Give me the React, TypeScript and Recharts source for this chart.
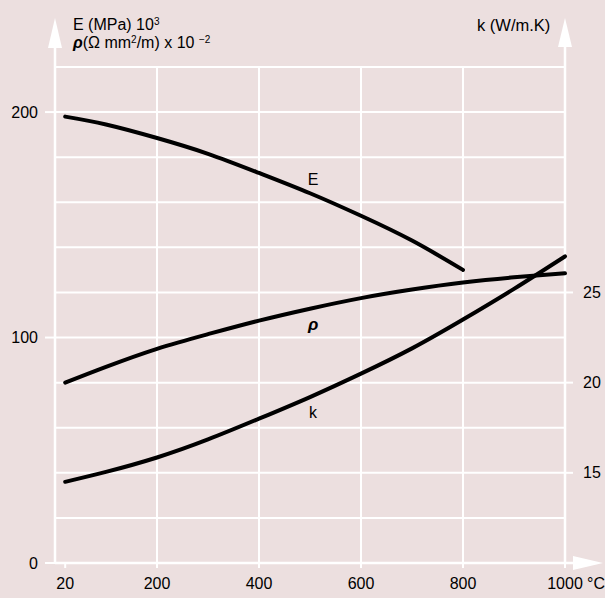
import React from 'react'
import { LineChart, Line, XAxis, YAxis, ReferenceLine, ReferenceDot } from 'recharts'

// temperatures (°C)
const temps = [20, 100, 200, 300, 400, 500, 600, 700, 800, 900, 1000]
// E (MPa) x 10^3, stops at 800 °C
const eValues = [198, 194.5, 188.5, 181.5, 173, 164, 154, 143, 130, null, null]
// rho (ohm mm2/m) x 10^-2
const rhoValues = [80, 87, 95, 101.5, 107.5, 112.8, 117.5, 121.3, 124.4, 126.7, 128.5]
// k (W/m.K), right axis
const kValues = [14.5, 15.05, 15.85, 16.85, 18.0, 19.2, 20.5, 21.9, 23.5, 25.2, 27.0]

const xTicks = [20, 200, 400, 600, 800, 1000]
const leftTicks = [0, 100, 200]
const rightTicks = [15, 20, 25]
const gridX = [200, 400, 600, 800, 1000]
const gridY = [20, 40, 60, 80, 100, 120, 140, 160, 180, 200, 220]

const data = temps.map((t, i) => ({ t, E: eValues[i], rho: rhoValues[i], k: kValues[i] }))

const BG = '#ecdfdf'
const FONT = '"Liberation Sans", Arial, sans-serif'

const XTick = (props: any) => {
  const { x, y, payload } = props
  return (
    <g>
      <text x={x} y={y} dy="0.71em" textAnchor="middle" fontSize={16} fill="#000" fontFamily={FONT}>
        {payload.value}
      </text>
      {payload.value === 1000 && (
        <text x={x + 22} y={y} dy="0.71em" textAnchor="start" fontSize={16} fill="#000" fontFamily={FONT}>
          °C
        </text>
      )}
    </g>
  )
}

const App = () => {
  return (
    <div style={{ position: 'absolute', left: 0, top: 0, width: 605, height: 598, background: BG, fontFamily: FONT }}>
      {/* axes with arrows, titles */}
      <svg width={605} height={598} style={{ position: 'absolute', left: 0, top: 0 }}>
        <line x1={55} y1={40} x2={55} y2={563} stroke="#fff" strokeWidth={2.5} />
        <polygon points="55,18 48,48 62,48" fill="#fff" />
        <line x1={565} y1={40} x2={565} y2={563} stroke="#fff" strokeWidth={2.5} />
        <polygon points="565,18 558,47 572,47" fill="#fff" />
        <line x1={55} y1={563} x2={580} y2={563} stroke="#fff" strokeWidth={2.5} />
        <polygon points="603,563 573,556 573,570" fill="#fff" />
        <text x={73} y={30} fontSize={16} fill="#000" fontFamily={FONT}>
          E (MPa) 10<tspan dy={-5} fontSize={10}>3</tspan>
        </text>
        <text x={73} y={48} fontSize={16} fill="#000" fontFamily={FONT}>
          <tspan fontWeight="bold" fontStyle="italic">ρ</tspan>(Ω mm<tspan dy={-5} fontSize={10}>2</tspan>
          <tspan dy={5}>/m) x 10 </tspan>
          <tspan dy={-5} fontSize={10}>−2</tspan>
        </text>
        <text x={477} y={31} fontSize={16.5} fill="#000" fontFamily={FONT}>
          k (W/m.K)
        </text>
      </svg>
      <div style={{ position: 'absolute', left: 0, top: 0 }}>
        <LineChart width={605} height={598} data={data} margin={{ top: 67, right: 0, bottom: 0, left: 0 }}>
          <XAxis
            dataKey="t"
            type="number"
            domain={[0, 1000]}
            ticks={xTicks}
            height={35}
            axisLine={false}
            tickLine={{ stroke: '#fff', strokeWidth: 2 }}
            tickSize={5}
            tickMargin={10}
            tick={<XTick />}
          />
          <YAxis
            yAxisId="left"
            type="number"
            domain={[0, 220]}
            ticks={leftTicks}
            width={55}
            axisLine={false}
            tickLine={{ stroke: '#fff', strokeWidth: 2 }}
            tickSize={10}
            tickMargin={7}
            tick={{ fill: '#000', fontSize: 16, fontFamily: FONT }}
          />
          <YAxis
            yAxisId="right"
            orientation="right"
            type="number"
            domain={[10, 37.5]}
            ticks={rightTicks}
            width={40}
            axisLine={false}
            tickLine={{ stroke: '#fff', strokeWidth: 2 }}
            tickSize={8}
            tickMargin={10}
            tick={{ fill: '#000', fontSize: 16, fontFamily: FONT, textAnchor: 'start' }}
          />
          {gridY.map(v => (
            <ReferenceLine key={`gy${v}`} yAxisId="left" y={v} stroke="#fff" strokeWidth={2} />
          ))}
          {gridX.map(v => (
            <ReferenceLine key={`gx${v}`} yAxisId="left" x={v} stroke="#fff" strokeWidth={2} />
          ))}
          <Line yAxisId="left" type="natural" dataKey="E" stroke="#000" strokeWidth={4} strokeLinecap="round" dot={false} isAnimationActive={false} />
          <Line yAxisId="left" type="natural" dataKey="rho" stroke="#000" strokeWidth={4} strokeLinecap="round" dot={false} isAnimationActive={false} />
          <Line yAxisId="right" type="natural" dataKey="k" stroke="#000" strokeWidth={4} strokeLinecap="round" dot={false} isAnimationActive={false} />
          <ReferenceDot yAxisId="left" x={506} y={170} r={0} stroke="none" label={{ value: 'E', position: 'center', fill: '#000', fontSize: 16, fontFamily: FONT }} />
          <ReferenceDot yAxisId="left" x={506} y={106} r={0} stroke="none" label={{ value: 'ρ', position: 'center', fill: '#000', fontSize: 17, fontWeight: 'bold', fontStyle: 'italic', fontFamily: FONT }} />
          <ReferenceDot yAxisId="left" x={506} y={67} r={0} stroke="none" label={{ value: 'k', position: 'center', fill: '#000', fontSize: 16, fontFamily: FONT }} />
        </LineChart>
      </div>
    </div>
  )
}

export default App
